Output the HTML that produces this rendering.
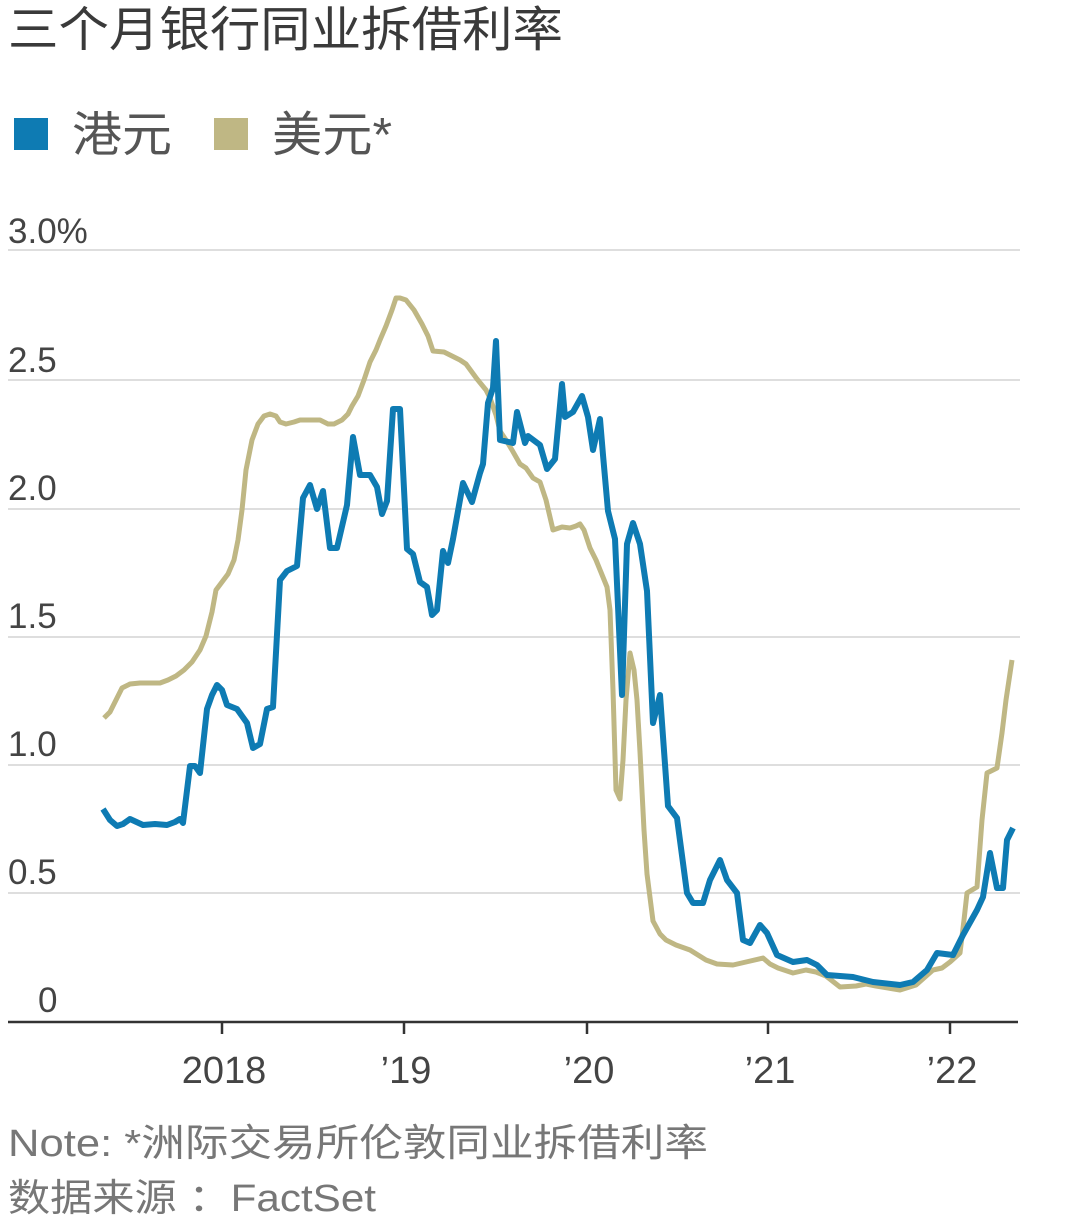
<!DOCTYPE html>
<html><head><meta charset="utf-8"><style>
html,body{margin:0;padding:0;background:#fff;}
svg text{font-family:"Liberation Sans","Noto Sans CJK SC",sans-serif;}
</style></head><body>
<svg width="1066" height="1222" viewBox="0 0 1066 1222" xmlns="http://www.w3.org/2000/svg">
<text x="8" y="46" font-size="48" fill="#3a3a3a" textLength="555" lengthAdjust="spacingAndGlyphs">三个月银行同业拆借利率</text>
<rect x="14" y="118" width="34" height="32" fill="#0e7bb3"/>
<text x="72" y="151" font-size="48" fill="#555" textLength="100" lengthAdjust="spacingAndGlyphs">港元</text>
<rect x="214" y="118" width="34" height="32" fill="#bfb784"/>
<text x="272" y="151" font-size="48" fill="#555" textLength="120" lengthAdjust="spacingAndGlyphs">美元*</text>
<g stroke="#dedede" stroke-width="2">
<line x1="8" y1="250" x2="1020" y2="250"/><line x1="8" y1="380" x2="1020" y2="380"/>
<line x1="8" y1="509" x2="1020" y2="509"/><line x1="8" y1="637" x2="1020" y2="637"/>
<line x1="8" y1="765" x2="1020" y2="765"/><line x1="8" y1="893" x2="1020" y2="893"/>
</g>
<g font-size="35" fill="#444">
<text x="8" y="243">3.0%</text><text x="8" y="372">2.5</text><text x="8" y="500">2.0</text>
<text x="8" y="628">1.5</text><text x="8" y="756">1.0</text><text x="8" y="884">0.5</text>
<text x="38" y="1012">0</text>
</g>
<polyline fill="none" stroke="#bfb784" stroke-width="5" stroke-linejoin="round" points="104,718 110,712 116,700 122,688 130,684 140,683 150,683 160,683 168,680 176,676 184,670 192,662 200,650 206,636 212,612 216,590 222,582 228,574 234,560 238,540 242,510 246,470 252,440 258,424 264,416 270,414 276,416 280,422 286,424 294,422 300,420 310,420 320,420 328,424 334,424 342,420 348,414 352,406 358,396 364,380 370,362 376,350 380,340 386,326 392,310 396,298 400,298 406,300 414,310 422,324 428,336 433,351 444,352 452,356 460,360 466,364 477,379 486,390 490,398 496,415 500,431 506,440 512,450 520,464 526,468 533,478 540,482 546,500 553,530 562,527 570,528 576,526 580,524 584,530 590,548 596,560 607,587 610,610 613,690 616,790 620,799 623,760 626,700 630,653 634,670 637,700 640,752 644,830 647,874 653,921 660,934 666,940 676,945 690,950 706,960 717,964 733,965 746,962 763,958 770,964 778,968 793,973 806,970 816,972 826,976 840,987 856,986 866,984 876,986 900,990 916,985 933,970 942,968 950,962 960,953 964,920 967,893 977,887 982,820 987,773 997,768 1002,733 1006,700 1012,660"/>
<polyline fill="none" stroke="#0e7bb3" stroke-width="6" stroke-linejoin="round" points="103,809 110,820 117,826 123,824 130,819 143,825 155,824 167,825 175,822 180,819 183,823 190,766 195,766 200,773 207,709 212,695 217,685 222,690 227,705 237,709 247,723 253,748 260,744 267,709 273,707 280,580 287,571 297,566 303,498 310,485 317,509 323,491 330,548 337,548 347,505 353,437 360,475 370,475 377,487 382,514 387,501 393,409 400,409 407,549 413,554 420,582 427,587 432,615 437,610 443,551 448,563 453,539 463,483 472,502 480,473 483,464 488,403 493,388 496,341 500,440 513,443 517,412 525,443 528,436 540,445 547,469 555,459 562,384 565,417 573,412 582,396 588,417 593,450 600,419 603,455 608,511 615,539 622,695 627,544 633,523 640,544 647,591 653,723 660,695 668,806 677,818 687,893 693,903 703,903 710,880 720,860 727,880 737,893 743,940 750,943 760,925 767,933 777,955 793,962 807,960 817,965 827,975 853,977 873,982 900,985 913,982 927,970 937,953 953,955 963,935 977,910 983,897 990,853 997,888 1003,888 1007,840 1013,828"/>
<line x1="8" y1="1022" x2="1018" y2="1022" stroke="#333" stroke-width="2.5"/>
<g stroke="#333" stroke-width="2.5">
<line x1="222" y1="1022" x2="222" y2="1034"/><line x1="404" y1="1022" x2="404" y2="1034"/>
<line x1="587" y1="1022" x2="587" y2="1034"/><line x1="768" y1="1022" x2="768" y2="1034"/>
<line x1="950" y1="1022" x2="950" y2="1034"/>
</g>
<g font-size="38" fill="#444" text-anchor="middle">
<text x="224" y="1083">2018</text><text x="406" y="1083">’19</text><text x="589" y="1083">’20</text>
<text x="770" y="1083">’21</text><text x="952" y="1083">’22</text>
</g>
<text x="8" y="1156" font-size="38" fill="#777" textLength="700" lengthAdjust="spacingAndGlyphs">Note: *洲际交易所伦敦同业拆借利率</text>
<text x="8" y="1211" font-size="38" fill="#777" textLength="368" lengthAdjust="spacingAndGlyphs">数据来源 ：FactSet</text>
</svg>
</body></html>
